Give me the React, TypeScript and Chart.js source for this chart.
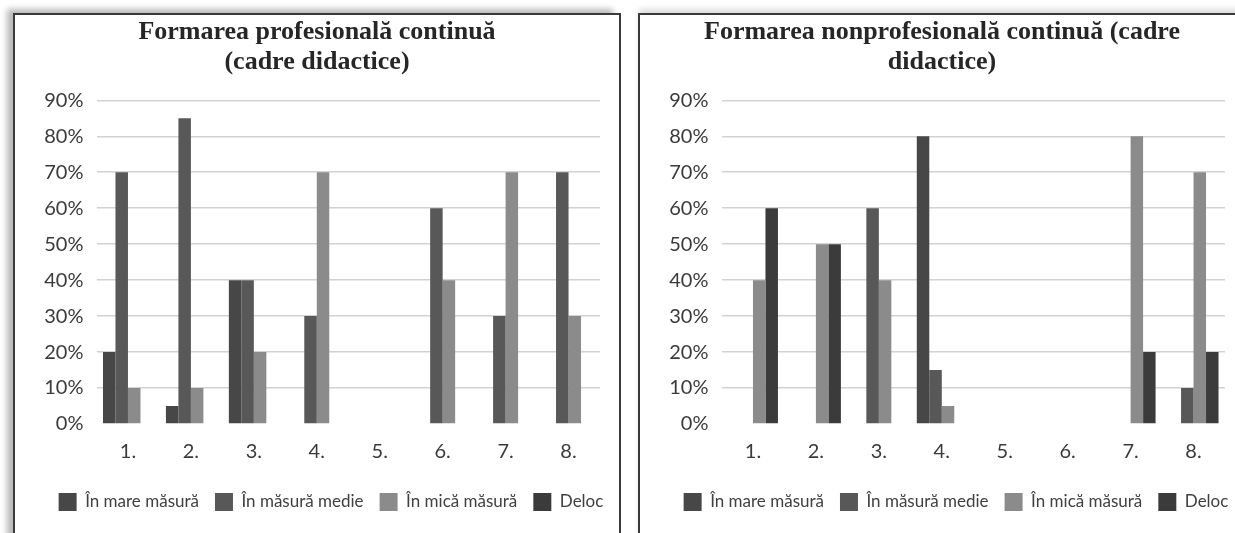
import React, { useEffect, useRef } from "react";
import { Chart, registerables } from "chart.js";

Chart.register(...registerables);

// Categories and legend entries shared by both panels
const categories = ["1.", "2.", "3.", "4.", "5.", "6.", "7.", "8."];
const seriesNames = ["În mare măsură", "În măsură medie", "În mică măsură", "Deloc"];
const seriesColors = ["#474747", "#585858", "#8b8b8b", "#3b3b3b"];
const yTickValues = [0, 10, 20, 30, 40, 50, 60, 70, 80, 90];

// Formarea profesională continuă (percent of respondents)
const profTitle = ["Formarea profesională continuă", "(cadre didactice)"];
const profMare = [20, 5, 40, 0, 0, 0, 0, 0];
const profMedie = [70, 85, 40, 30, 0, 60, 30, 70];
const profMica = [10, 10, 20, 70, 0, 40, 70, 30];
const profDeloc = [0, 0, 0, 0, 0, 0, 0, 0];

// Formarea nonprofesională continuă (percent of respondents)
const nonprofTitle = ["Formarea nonprofesională continuă (cadre", "didactice)"];
const nonprofMare = [0, 0, 0, 80, 0, 0, 0, 0];
const nonprofMedie = [0, 0, 60, 15, 0, 0, 0, 10];
const nonprofMica = [40, 50, 40, 5, 0, 0, 80, 70];
const nonprofDeloc = [60, 50, 0, 0, 0, 0, 20, 20];

const CANVAS_W = 604;
const CANVAS_H = 530;
const LEGEND_SHIFT = 14;

// Moves the legend row sideways without touching the title or plot area
const legendShift = {
  id: "legendShift",
  afterLayout(chart: any) {
    const lg = chart.legend;
    if (lg) {
      lg.left += LEGEND_SHIFT;
      lg.right += LEGEND_SHIFT;
    }
  },
};

type PanelProps = {
  title: string[];
  series: number[][];
};

const labelFont = "Lato, 'Open Sans', sans-serif";

function PanelChart({ title, series }: PanelProps) {
  const ref = useRef<HTMLCanvasElement>(null);

  useEffect(() => {
    const canvas = ref.current;
    if (!canvas) return;
    const chart = new Chart(canvas, {
      type: "bar",
      data: {
        labels: categories,
        datasets: seriesNames.map((name, i) => ({
          label: name,
          data: series[i],
          backgroundColor: seriesColors[i],
          borderWidth: 0,
          categoryPercentage: 0.794,
          barPercentage: 1.0,
          yAxisID: "y",
        })),
      },
      options: {
        responsive: false,
        animation: false,
        devicePixelRatio: 1,
        layout: { padding: { left: 0, right: 0, top: 0, bottom: 24 } },
        plugins: {
          title: {
            display: true,
            text: title,
            color: "#262626",
            font: { family: "'Liberation Serif', 'Times New Roman', serif", size: 26, weight: "bold", lineHeight: 1.15 },
            padding: { top: 2, bottom: 23.5 },
          },
          legend: {
            display: true,
            position: "bottom",
            align: "center",
            labels: {
              boxWidth: 18,
              boxHeight: 18,
              padding: 16,
              color: "#404040",
              font: { family: labelFont, size: 17 },
            },
          },
          tooltip: { enabled: false },
        },
        scales: {
          x: {
            grid: { display: false, drawTicks: false },
            border: { display: false },
            ticks: {
              color: "#3a3a3a",
              padding: 16,
              font: { family: labelFont, size: 20 },
            },
            afterFit: (s: any) => {
              s.height -= 3;
            },
          },
          y: {
            type: "linear",
            position: "left",
            min: yTickValues[0],
            max: yTickValues[yTickValues.length - 1],
            ticks: {
              stepSize: 10,
              color: "#3a3a3a",
              padding: 13,
              font: { family: labelFont, size: 20 },
              callback: (v: any) => `${v}%`,
            },
            grid: {
              drawTicks: false,
              lineWidth: 1.5,
              color: (ctx: any) => (ctx.tick && ctx.tick.value === 0 ? "rgba(0,0,0,0)" : "#d2d2d2"),
            },
            border: { display: false },
            afterFit: (s: any) => {
              s.width = 81.5;
            },
          },
          // empty right-hand margin beside the plot area
          yMargin: {
            type: "linear",
            position: "right",
            display: true,
            grid: { display: false, drawTicks: false },
            border: { display: false },
            ticks: { display: false },
            afterFit: (s: any) => {
              s.width = 19;
            },
          },
        },
      },
      plugins: [legendShift],
    });
    return () => chart.destroy();
  }, [title, series]);

  return <canvas ref={ref} width={CANVAS_W} height={CANVAS_H} style={{ display: "block", width: CANVAS_W, height: CANVAS_H }} />;
}

const panelBase: React.CSSProperties = {
  position: "absolute",
  top: 13,
  width: CANVAS_W,
  height: CANVAS_H,
  border: "2px solid #3a3a3a",
  background: "#ffffff",
};

const profSeries = [profMare, profMedie, profMica, profDeloc];
const nonprofSeries = [nonprofMare, nonprofMedie, nonprofMica, nonprofDeloc];

export default function App() {
  return (
    <div
      style={{
        position: "fixed",
        left: 0,
        top: 0,
        width: 1235,
        height: 533,
        overflow: "hidden",
        background: "#ffffff",
      }}
    >
      <div style={{ ...panelBase, left: 13, boxShadow: "-7px -5px 6px -1px rgba(0,0,0,0.28)" }}>
        <PanelChart title={profTitle} series={profSeries} />
      </div>
      <div style={{ ...panelBase, left: 638, boxShadow: "0px -5px 6px -1px rgba(0,0,0,0.14)" }}>
        <PanelChart title={nonprofTitle} series={nonprofSeries} />
      </div>
    </div>
  );
}
